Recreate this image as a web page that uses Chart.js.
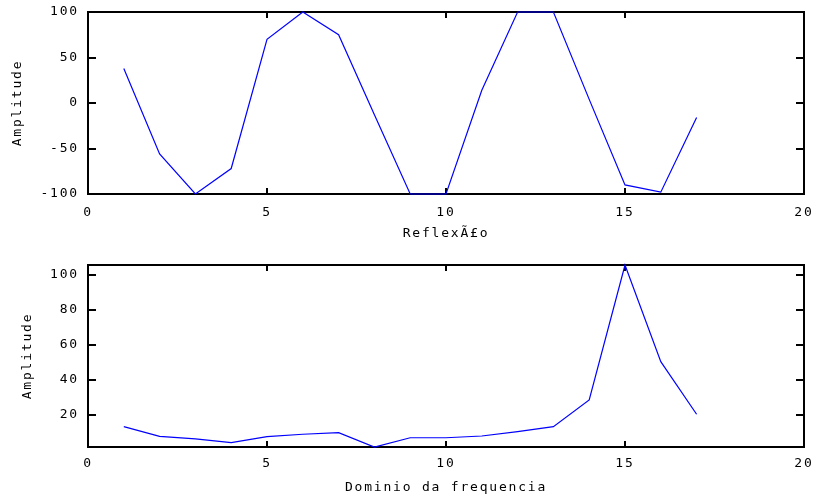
<!DOCTYPE html>
<html>
<head>
<meta charset="utf-8">
<script src="https://cdn.jsdelivr.net/npm/chart.js@4/dist/chart.umd.min.js"></script>
<style>
  html, body { margin: 0; padding: 0; background: #fff; }
  #wrap { position: relative; width: 815px; height: 501px; }
  canvas { position: absolute; left: 0; }
</style>
</head>
<body>
<div id="wrap">
  <canvas id="top" width="815" height="250" style="top:0"></canvas>
  <canvas id="bot" width="815" height="251" style="top:250px"></canvas>
</div>
<script>
// ---- data ----
const samples = [1, 2, 3, 4, 5, 6, 7, 8, 9, 10, 11, 12, 13, 14, 15, 16, 17];
const reflexaoValues = [38, -56, -100, -72, 70, 100, 75, -13, -100, -100, 14, 100, 100, 4, -90, -98, -16];
const freqValues = [13.3, 7.8, 6.3, 4.2, 7.6, 9.0, 9.9, 1.7, 7.0, 7.0, 8.0, 10.5, 13.3, 28.6, 105.7, 50.5, 20.4];
const xTicks = [0, 5, 10, 15, 20];
const topYTicks = [-100, -50, 0, 50, 100];
const botYTicks = [20, 40, 60, 80, 100];
const topXTitle = 'ReflexÃ£o';
const botXTitle = 'Dominio da frequencia';
const yTitle = 'Amplitude';

const FONT = { family: '"DejaVu Sans Mono", monospace', size: 13 };
const LS = '1.8px';

const spacingPlugin = {
  id: 'spacing',
  beforeLayout(c) { c.ctx.letterSpacing = LS; },
  beforeDraw(c) { c.ctx.letterSpacing = LS; }
};

const framePlugin = {
  id: 'frame',
  beforeDatasetsDraw(chart) {
    const { ctx, chartArea: a, scales: { x, y } } = chart;
    ctx.save();
    ctx.strokeStyle = '#000';
    ctx.lineWidth = 2;
    ctx.strokeRect(a.left, a.top, a.right - a.left, a.bottom - a.top);
    ctx.beginPath();
    x.ticks.forEach(t => {
      const px = Math.round(x.getPixelForValue(t.value));
      ctx.moveTo(px, a.bottom); ctx.lineTo(px, a.bottom - 6);
      ctx.moveTo(px, a.top); ctx.lineTo(px, a.top + 6);
    });
    y.ticks.forEach(t => {
      const py = Math.round(y.getPixelForValue(t.value));
      ctx.moveTo(a.left, py); ctx.lineTo(a.left + 8, py);
      ctx.moveTo(a.right, py); ctx.lineTo(a.right - 8, py);
    });
    ctx.stroke();
    ctx.restore();
  }
};

function makeChart(id, values, yTicks, xTitle, cfg) {
  const pts = samples.map((s, i) => ({ x: s, y: values[i] }));
  return new Chart(document.getElementById(id), {
    type: 'line',
    data: { datasets: [{
      data: pts, borderColor: '#0000ff', borderWidth: 1.2,
      pointRadius: 0, tension: 0, fill: false, clip: false
    }] },
    options: {
      responsive: false, animation: false, devicePixelRatio: 1,
      layout: { padding: { left: 0, right: 0, top: 0, bottom: 0 } },
      plugins: { legend: { display: false }, tooltip: { enabled: false } },
      scales: {
        x: {
          type: 'linear', min: 0, max: 20,
          afterBuildTicks(s) { s.ticks = xTicks.map(v => ({ value: v })); },
          afterFit(s) { s.height = cfg.xh; s.paddingLeft = 0; s.paddingRight = 11; s.paddingTop = 0; s.paddingBottom = 0; },
          grid: { display: false, drawTicks: false },
          border: { display: false },
          ticks: { color: '#000', font: FONT, padding: cfg.xtp, maxRotation: 0, autoSkip: false },
          title: { display: true, text: xTitle, color: '#000', font: FONT, padding: { top: 0, bottom: cfg.xtb } }
        },
        y: {
          type: 'linear', min: Math.min(...values), max: Math.max(...values),
          afterBuildTicks(s) { s.ticks = yTicks.map(v => ({ value: v })); },
          afterFit(s) { s.width = 88; s.paddingTop = cfg.top; s.paddingBottom = 0; s.paddingLeft = 0; s.paddingRight = 0; },
          grid: { display: false, drawTicks: false },
          border: { display: false },
          ticks: { color: '#000', font: FONT, padding: 9 },
          title: { display: true, text: yTitle, color: '#000', font: FONT, padding: { top: cfg.ytp, bottom: 0 } }
        }
      }
    },
    plugins: [spacingPlugin, framePlugin]
  });
}

makeChart('top', reflexaoValues, topYTicks, topXTitle, { top: 12, xh: 56, xtp: 10.7, xtb: 8.2, ytp: 10.2 });
makeChart('bot', freqValues, botYTicks, botXTitle, { top: 15, xh: 54, xtp: 9.2, xtb: 5.2, ytp: 19.7 });
</script>
</body>
</html>
